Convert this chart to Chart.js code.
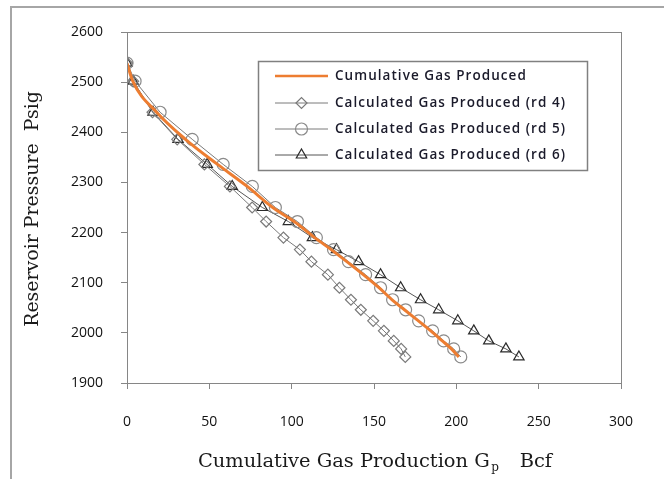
<!DOCTYPE html>
<html>
<head>
<meta charset="utf-8">
<script src="https://cdn.jsdelivr.net/npm/chart.js@4"></script>
<style>
html,body{margin:0;padding:0;background:#fff;}
#wrap{width:664px;height:479px;position:relative;}
canvas{display:block;}
</style>
</head>
<body>
<div id="wrap"><canvas id="c" width="664" height="479"></canvas></div>
<script>
// Reservoir pressure (psig) at each step, shared by all series
const pressure = [2538, 2502, 2440, 2386, 2336, 2292, 2250, 2222, 2190, 2166, 2142, 2116, 2090, 2066, 2046, 2024, 2004, 1984, 1968, 1952];
// Cumulative gas production Gp (Bcf)
const cumulativeGp = [0, 3.5, 18, 35.5, 55, 73, 88.5, 101.5, 114, 124, 133.5, 143.5, 153, 161, 168.5, 177, 184.5, 191.5, 197, 201.5];
const rd4Gp = [0, 3.7, 15.5, 30.5, 47, 62.5, 76, 84.5, 95, 105, 112, 122, 129, 136, 142, 149.5, 156, 162, 166.5, 169];
const rd5Gp = [0, 4.9, 20.1, 39.6, 58.4, 76.1, 90.1, 103.5, 115, 125.4, 134.5, 144.9, 154, 161.3, 169.2, 177.1, 185.6, 192.3, 198.4, 202.7];
const rd6Gp = [0, 3.7, 15.8, 31, 48.7, 63.9, 82.2, 98, 112.6, 127.2, 140.6, 154, 166.2, 178.3, 189.3, 200.9, 210.6, 219.7, 230.1, 238];
const seriesNames = ['Cumulative Gas Produced', 'Calculated Gas Produced (rd 4)', 'Calculated Gas Produced (rd 5)', 'Calculated Gas Produced (rd 6)'];
const xTitle = ['Cumulative Gas Production G', 'p', 'Bcf'];
const yTitle = 'Reservoir Pressure  Psig';

const pts = (xs) => xs.map((x, i) => ({x: x, y: pressure[i]}));

const styles = [
  {color: '#ED7D31', width: 3, point: false},
  {color: '#7a7a7a', width: 1, point: 'rectRot', r: 5.5, mc: '#7a7a7a'},
  {color: '#7a7a7a', width: 1, point: 'circle', r: 6, mc: '#8a8a8a'},
  {color: '#555555', width: 1, point: 'triangle', r: 6, mc: '#2a2a2a'}
];

const serif = '"DejaVu Serif", "Liberation Serif", serif';

function fitSize(ctx, text, target, family) {
  ctx.font = '20px ' + family;
  return 20 * target / ctx.measureText(text).width;
}

const frame = {
  id: 'frame',
  afterDraw(chart) {
    const ctx = chart.ctx, a = chart.chartArea;
    ctx.save();
    // outer frame
    ctx.strokeStyle = '#a6a6a6'; ctx.lineWidth = 2;
    ctx.beginPath(); ctx.moveTo(11, 479); ctx.lineTo(11, 7); ctx.lineTo(664, 7); ctx.stroke();
    // plot border
    ctx.strokeStyle = '#868686'; ctx.lineWidth = 1;
    ctx.strokeRect(Math.round(a.left) + 0.5, Math.round(a.top) + 0.5, Math.round(a.right - a.left), Math.round(a.bottom - a.top));
    // y title
    ctx.fillStyle = '#1a1a1a';
    const ys = fitSize(ctx, yTitle, 236, serif);
    ctx.font = ys + 'px ' + serif;
    ctx.textAlign = 'center'; ctx.textBaseline = 'middle';
    ctx.translate(33, 209);
    ctx.rotate(-Math.PI / 2);
    ctx.fillText(yTitle, 0, 0);
    ctx.restore();
    // x title with subscript
    ctx.save();
    ctx.fillStyle = '#1a1a1a';
    ctx.textBaseline = 'alphabetic'; ctx.textAlign = 'left';
    const xs = fitSize(ctx, xTitle[0], 292, serif);
    const f1 = xs + 'px ' + serif, f2 = (xs * 0.62) + 'px ' + serif;
    const yb = 467, x0 = 198;
    ctx.font = f1; const w1 = ctx.measureText(xTitle[0]).width;
    ctx.fillText(xTitle[0], x0, yb);
    ctx.font = f2; ctx.fillText(xTitle[1], x0 + w1 + 1.5, yb + 4);
    ctx.font = f1; ctx.textAlign = 'right'; ctx.fillText(xTitle[2], 552, yb);
    ctx.restore();
    // legend
    ctx.save();
    ctx.strokeStyle = '#808080'; ctx.lineWidth = 1.5;
    ctx.strokeRect(258.5, 61.5, 329, 109);
    const rows = [76, 103, 129, 155];
    ctx.font = '600 13.5px "Open Sans", sans-serif';
    try { ctx.letterSpacing = '1.05px'; } catch (e) {}
    ctx.textBaseline = 'middle'; ctx.textAlign = 'left';
    rows.forEach((y, i) => {
      const s = styles[i];
      ctx.strokeStyle = s.color; ctx.lineWidth = s.width === 3 ? 2.5 : s.width;
      ctx.beginPath(); ctx.moveTo(275, y); ctx.lineTo(328, y); ctx.stroke();
      if (s.point) {
        ctx.strokeStyle = s.mc; ctx.fillStyle = 'rgba(0,0,0,0)'; ctx.lineWidth = 1.2;
        Chart.helpers.drawPoint(ctx, {pointStyle: s.point, radius: s.r, borderWidth: 1.2, rotation: 0}, 301.5, y);
      }
      ctx.fillStyle = '#1a1a2a';
      ctx.fillText(seriesNames[i], 335, y);
    });
    ctx.restore();
  }
};

const datasets = [cumulativeGp, rd4Gp, rd5Gp, rd6Gp].map((xs, i) => {
  const s = styles[i];
  return {
    label: seriesNames[i],
    data: pts(xs),
    showLine: true,
    borderColor: s.color,
    borderWidth: s.width,
    backgroundColor: 'rgba(0,0,0,0)',
    pointStyle: s.point || 'circle',
    pointRadius: s.point ? s.r : 0,
    pointBorderColor: s.mc || s.color,
    pointBackgroundColor: 'rgba(0,0,0,0)',
    pointBorderWidth: 1.2,
    tension: i === 0 ? 0.4 : 0,
    cubicInterpolationMode: i === 0 ? 'monotone' : 'default',
    fill: false
  };
});

const tickFont = {family: '"Open Sans", sans-serif', size: 14};

new Chart(document.getElementById('c'), {
  type: 'scatter',
  data: {datasets: datasets},
  plugins: [frame],
  options: {
    responsive: false,
    animation: false,
    layout: {padding: {left: 0, top: 32, right: 43, bottom: 0}},
    plugins: {legend: {display: false}, tooltip: {enabled: false}},
    scales: {
      x: {
        type: 'linear', min: 0, max: 300,
        ticks: {stepSize: 50, color: '#111', font: tickFont, padding: 25, maxRotation: 0, callback: v => String(v)},
        grid: {drawOnChartArea: false, drawTicks: true, tickLength: 6, color: '#868686'},
        border: {display: true, color: '#868686'},
        afterFit(s) { s.height = 96; }
      },
      y: {
        type: 'linear', min: 1900, max: 2600,
        ticks: {stepSize: 100, color: '#111', font: tickFont, padding: 18, callback: v => String(v)},
        grid: {drawOnChartArea: false, drawTicks: true, tickLength: 6, color: '#868686'},
        border: {display: true, color: '#868686'},
        afterFit(s) { s.width = 127; }
      }
    }
  }
});
</script>
</body>
</html>
